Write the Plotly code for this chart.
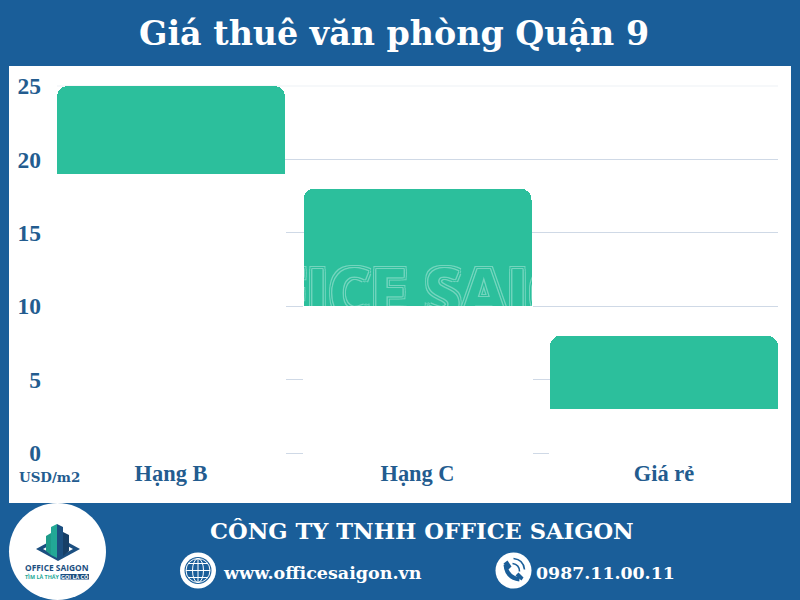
import plotly.graph_objects as go

# Data
categories = ["Hạng B", "Hạng C", "Giá rẻ"]
low_values = [19, 10, 3]
high_values = [25, 18, 8]
y_ticks = [0, 5, 10, 15, 20, 25]
unit_label = "USD/m2"
title_text = "Giá thuê văn phòng Quận 9"
company_text = "CÔNG TY TNHH OFFICE SAIGON"
website_text = "www.officesaigon.vn"
phone_text = "0987.11.00.11"
watermark_text = "OFFICE SAIGON"

BLUE = "#1a5e99"
GREEN = "#2cbf9c"
TICK = "#235c8f"
W, H = 800, 600


def px(x):
    return x / W


def py(y):
    return 1 - y / H


def path(*segs):
    """segments: strings and (x, y) pixel points"""
    out = []
    for s in segs:
        if isinstance(s, str):
            out.append(s)
        else:
            out.append(f"{px(s[0]):.5f},{py(s[1]):.5f}")
    return " ".join(out)


shapes = []


def add_rect(x0, y0, x1, y1, color, layer="below"):
    shapes.append(dict(type="rect", xref="paper", yref="paper", x0=px(x0), x1=px(x1),
                       y0=py(y0), y1=py(y1), fillcolor=color, line_width=0, layer=layer))


def add_circle(cx, cy, rx, ry=None, fill=None, line=None, lw=0):
    ry = rx if ry is None else ry
    shapes.append(dict(type="circle", xref="paper", yref="paper", x0=px(cx - rx), x1=px(cx + rx),
                       y0=py(cy + ry), y1=py(cy - ry), fillcolor=fill or "rgba(0,0,0,0)",
                       line=dict(color=line or "rgba(0,0,0,0)", width=lw), layer="above"))


def add_path(p, fill=None, line=None, lw=0):
    shapes.append(dict(type="path", xref="paper", yref="paper", path=p,
                       fillcolor=fill or "rgba(0,0,0,0)",
                       line=dict(color=line or "rgba(0,0,0,0)", width=lw), layer="above"))


def poly(points, fill):
    segs = ["M", points[0]]
    for p in points[1:]:
        segs += ["L", p]
    segs.append("Z")
    add_path(path(*segs), fill=fill)


# White panel
add_rect(9, 66, 791, 503, "white")
# Faint top rule of the plot
add_rect(57, 85.5, 778, 86.5, "#eef2f6")

# Logo disc
add_circle(57.5, 551.5, 48.5, fill="white")
poly([(36, 549), (58, 537), (80, 549), (58, 561)], "#1c4f80")
poly([(43, 549), (58, 541), (73, 549), (58, 557)], "white")
poly([(46, 536), (51, 533), (51, 555), (46, 551)], "#1f9c8a")
poly([(51, 527), (57, 524), (57, 558), (51, 555)], "#22a896")
poly([(57, 524), (63, 527), (63, 556), (57, 558)], "#1c4f80")
poly([(63, 532), (69, 535), (69, 551), (63, 556)], "#173f66")
add_rect(60.5, 574, 89, 579.5, "#1c4f80", layer="above")

# Globe icon
gx, gy = 198, 570.5
add_circle(gx, gy, 18, fill="white")
add_circle(gx, gy, 13.5, fill=BLUE)
add_circle(gx, gy, 12, line="white", lw=1)
add_circle(gx, gy, 5.5, 12, line="white", lw=1)
for dy, half in ((-7, 9.8), (0, 12), (7, 9.8)):
    add_path(path("M", (gx - half, gy + dy), "L", (gx + half, gy + dy)), line="white", lw=1)
add_path(path("M", (gx, gy - 12), "L", (gx, gy + 12)), line="white", lw=1)

# Phone icon
fx, fy = 513.5, 570.5
add_circle(fx, fy, 18, fill="white")
add_path(path("M", (fx - 8, fy - 6), "Q", (fx - 7, fy + 7), (fx + 6, fy + 9)), line=BLUE, lw=4)
poly([(fx - 10, fy - 7), (fx - 6, fy - 10), (fx - 2, fy - 4), (fx - 5, fy - 1)], BLUE)
poly([(fx + 8, fy + 10), (fx + 10, fy + 7), (fx + 5, fy + 2), (fx + 2, fy + 5)], BLUE)
add_path(path("M", (fx - 1, fy - 7), "Q", (fx + 6, fy - 6), (fx + 6, fy + 1)), line=BLUE, lw=1.6)
add_path(path("M", (fx, fy - 12), "Q", (fx + 10, fy - 11), (fx + 11, fy - 1)), line=BLUE, lw=1.6)

SERIF = "DejaVu Serif"


def note(text, x, y, size, color="white", family=SERIF, anchor="center", weight="bold"):
    return dict(text=text, xref="paper", yref="paper", x=px(x), y=py(y), showarrow=False,
                xanchor=anchor, yanchor="middle",
                font=dict(family=family, size=size, color=color, weight=weight))


annotations = [
    note(title_text, 393.5, 33, 33.3),
    note(company_text, 422, 531, 22.6),
    note(website_text, 221, 572.5, 17.5, anchor="left"),
    note(phone_text, 534, 572.5, 17.35, anchor="left"),
    note(unit_label, 17, 477, 13.4, color=TICK, anchor="left"),
    note("OFFICE SAIGON", 57, 567, 8.4, color="#1c4f80", family="Open Sans"),
    note("TÌM LÀ THẤY", 42.5, 577, 5.4, color="#22a896", family="Open Sans"),
    note("GỌI LÀ CÓ", 74.7, 577, 5.4, color="white", family="Open Sans"),
]

spreads = [h - l for h, l in zip(high_values, low_values)]

fig = go.Figure()
fig.add_trace(go.Bar(x=categories, y=low_values, marker=dict(color="white", line=dict(color="white", width=2)),
                     hoverinfo="skip", showlegend=False))
fig.add_trace(go.Bar(x=categories, y=spreads,
                     marker=dict(color=GREEN, line_width=0, cornerradius=11), showlegend=False))

# Watermark outline, clipped to a window on the middle bar
o = "#74d5be"
g = GREEN
ring = lambda r, c: ", ".join(f"{a}px {b}px 0 {c}" for a, b in
                              ((r, 0), (-r, 0), (0, r), (0, -r), (r, r), (-r, r), (r, -r), (-r, -r)))
fig.add_trace(go.Scatter(
    x=[432], y=[300], text=[watermark_text], mode="text", xaxis="x2", yaxis="y2",
    textposition="middle center", cliponaxis=True, hoverinfo="skip", showlegend=False,
    textfont=dict(family="Open Sans", size=66, color=g, weight="bold",
                  shadow=", ".join([ring(1, o), ring(2, g), ring(3, o)])),
))

fig.update_layout(
    width=W, height=H, margin=dict(l=0, r=0, t=0, b=0), autosize=False,
    paper_bgcolor=BLUE, plot_bgcolor="rgba(0,0,0,0)",
    barmode="stack", bargap=0.075, showlegend=False,
    shapes=shapes, annotations=annotations,
    xaxis=dict(domain=[px(57), px(778)], range=[-0.4625, 2.4625], showgrid=False, zeroline=False,
               showline=False, ticks="", ticklabelstandoff=2, automargin=False,
               tickfont=dict(family="Liberation Serif", size=22.4, color=TICK, weight="bold")),
    yaxis=dict(domain=[py(455.2), py(85.27)], range=[-0.15, 25.05], tickvals=y_ticks, showgrid=True,
               gridcolor="#cfd9e6", gridwidth=1, zeroline=False, showline=False, ticks="",
               ticklabelstandoff=15, automargin=False,
               tickfont=dict(family="Liberation Serif", size=23.5, color=TICK, weight="bold")),
    xaxis2=dict(domain=[px(304), px(532)], range=[304, 532], visible=False, anchor="y2",
                fixedrange=True, automargin=False),
    yaxis2=dict(domain=[py(306), py(265)], range=[306, 265], visible=False, anchor="x2",
                fixedrange=True, automargin=False),
)

fig.write_html("out.html", config={"displayModeBar": False},
               post_script="document.body.style.margin='0';document.body.style.overflow='hidden';")
